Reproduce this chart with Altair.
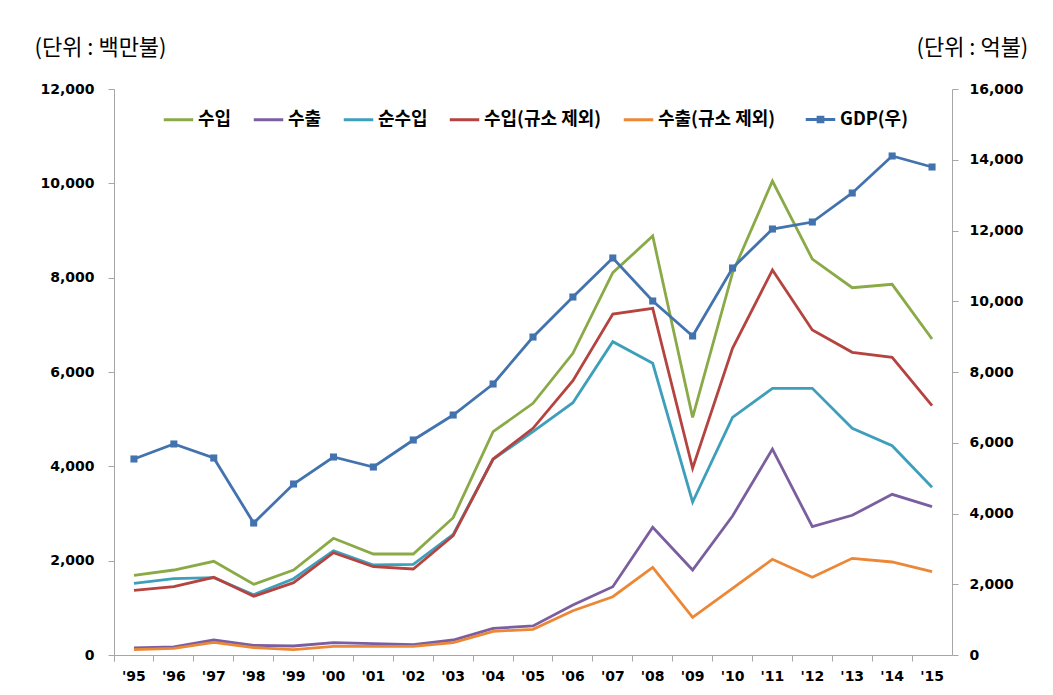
import altair as alt
import pandas as pd

years = ["'95", "'96", "'97", "'98", "'99", "'00", "'01", "'02", "'03", "'04", "'05",
         "'06", "'07", "'08", "'09", "'10", "'11", "'12", "'13", "'14", "'15"]

imports = [1690, 1802, 1987, 1499, 1802, 2474, 2141, 2141, 2911, 4734, 5336,
           6396, 8105, 8883, 5039, 8100, 10049, 8395, 7787, 7859, 6699]
exports = [148, 170, 318, 205, 191, 261, 240, 219, 318, 565, 615,
           1060, 1448, 2707, 1802, 2947, 4367, 2720, 2962, 3407, 3144]
net_imports = [1520, 1618, 1639, 1278, 1618, 2211, 1908, 1923, 2559, 4150, 4734,
               5349, 6642, 6184, 3244, 5039, 5654, 5654, 4806, 4437, 3555]
imports_ex_si = [1372, 1448, 1647, 1244, 1533, 2169, 1872, 1823, 2529, 4155, 4806,
                 5815, 7229, 7350, 3958, 6502, 8162, 6890, 6417, 6311, 5285]
exports_ex_si = [113, 141, 269, 155, 113, 184, 184, 184, 261, 502, 545,
                 939, 1236, 1859, 799, 1414, 2029, 1647, 2050, 1972, 1766]
gdp = [5541, 5965, 5569, 3731, 4834, 5597, 5314, 6078, 6784, 7661, 8989,
       10120, 11223, 10007, 9018, 10940, 12042, 12240, 13060, 14106, 13795]

series_names = ["수입", "수출", "순수입", "수입(규소 제외)", "수출(규소 제외)"]
series_colors = ["#8AAA48", "#7B5E9F", "#3E9FBB", "#B5433F", "#EC8736"]
gdp_name = "GDP(우)"
gdp_color = "#4373AF"
left_values = [imports, exports, net_imports, imports_ex_si, exports_ex_si]

rows = []
for name, vals in zip(series_names, left_values):
    for y, v in zip(years, vals):
        rows.append({"year": y, "series": name, "value": v})
left_df = pd.DataFrame(rows)
gdp_df = pd.DataFrame({"year": years, "series": gdp_name, "value": gdp})

AXIS_GRAY = "#A6A6A6"
NUM_FONT = "DejaVu Sans"
KR_FONT = "Noto Sans CJK KR"

x_enc = alt.X(
    "year:N", sort=years,
    scale=alt.Scale(type="band", paddingInner=0, paddingOuter=0),
    axis=alt.Axis(title=None, labelAngle=0, bandPosition=0, tickExtra=True,
                  domainColor=AXIS_GRAY, tickColor=AXIS_GRAY, tickSize=6,
                  labelFont=NUM_FONT, labelFontSize=14, labelFontWeight="bold",
                  labelColor="black", labelPadding=8, grid=False),
)

legend_common = dict(
    title=None, orient="none", direction="horizontal",
    symbolSize=870, symbolStrokeWidth=3,
    labelFont=KR_FONT, labelFontSize=18, labelFontWeight="bold",
    labelColor="black", labelOffset=3, columnPadding=15, padding=0,
)

left = alt.Chart(left_df).mark_line(strokeWidth=2.8).encode(
    x=x_enc,
    y=alt.Y("value:Q", scale=alt.Scale(domain=[0, 12000], nice=False),
            axis=alt.Axis(values=[0, 2000, 4000, 6000, 8000, 10000, 12000], format=",d",
                          domainColor=AXIS_GRAY, tickColor=AXIS_GRAY, tickSize=6,
                          labelFont=NUM_FONT, labelFontSize=14, labelFontWeight="bold",
                          labelColor="black", labelPadding=14, labelFlush=False,
                          labelOverlap=False, grid=False,
                          title="(단위 : 백만불)", titleAngle=0, titleX=-80, titleY=-42,
                          titleAlign="left", titleBaseline="middle", titleFont=KR_FONT,
                          titleFontSize=22, titleFontWeight="normal", titleColor="black")),
    color=alt.Color("series:N",
                    scale=alt.Scale(domain=series_names, range=series_colors),
                    legend=alt.Legend(legendX=48, legendY=14, symbolType="stroke",
                                      **legend_common)),
)

gdp_path = "M-1,0L1,0M-0.16,-0.16L0.16,-0.16L0.16,0.16L-0.16,0.16Z"
right = alt.Chart(gdp_df).mark_line(
    strokeWidth=2.8,
    point=alt.OverlayMarkDef(shape="square", size=50, filled=True, opacity=1),
).encode(
    x=x_enc,
    y=alt.Y("value:Q", scale=alt.Scale(domain=[0, 16000], nice=False),
            axis=alt.Axis(orient="right",
                          values=[0, 2000, 4000, 6000, 8000, 10000, 12000, 14000, 16000],
                          format=",d", domainColor=AXIS_GRAY, tickColor=AXIS_GRAY, tickSize=6,
                          labelFont=NUM_FONT, labelFontSize=14, labelFontWeight="bold",
                          labelColor="black", labelPadding=11, labelFlush=False,
                          labelOverlap=False, grid=False,
                          title="(단위 : 억불)", titleAngle=0, titleX=-36, titleY=-42,
                          titleAlign="left", titleBaseline="middle", titleFont=KR_FONT,
                          titleFontSize=22, titleFontWeight="normal", titleColor="black")),
    color=alt.Color("series:N",
                    scale=alt.Scale(domain=[gdp_name], range=[gdp_color]),
                    legend=alt.Legend(legendX=690, legendY=14, symbolType=gdp_path,
                                      symbolFillColor=gdp_color,
                                      symbolStrokeColor=gdp_color,
                                      **legend_common)),
)

chart = alt.layer(left, right).resolve_scale(y="independent", color="independent").properties(
    width=838, height=566,
    padding={"left": 106, "top": 81, "right": 93, "bottom": 32},
    autosize=alt.AutoSizeParams(type="none"),
    background="white",
).configure_view(stroke=None)

chart.save("out.html", embed_options={"renderer": "svg", "actions": False})
